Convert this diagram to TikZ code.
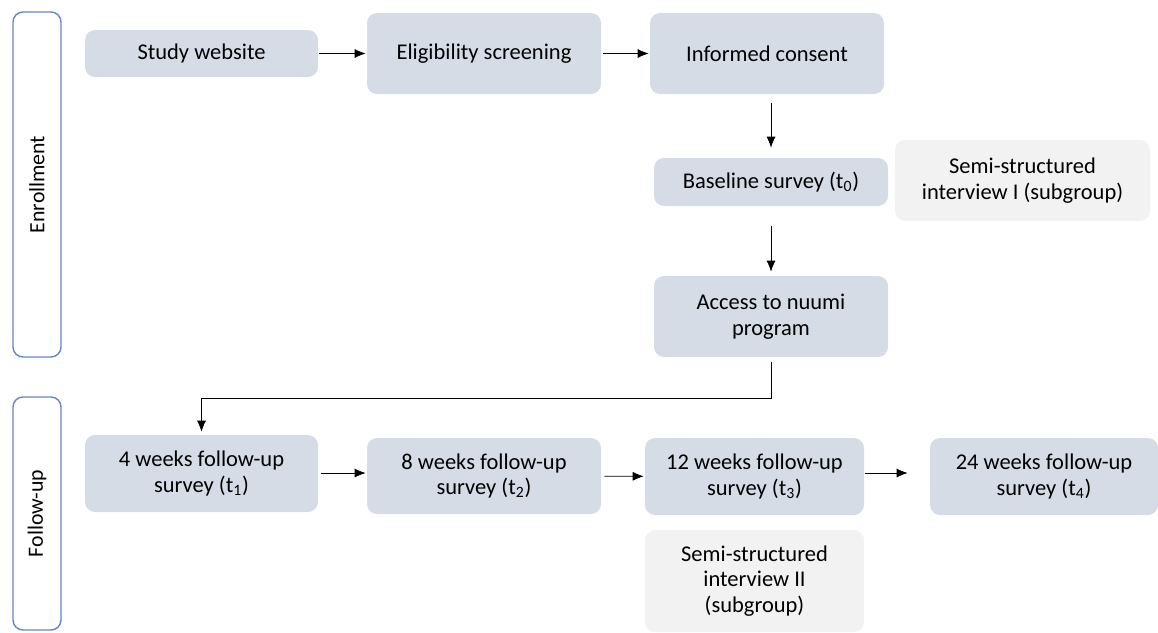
\documentclass[tikz,border=0pt]{standalone}
\usepackage{fontspec}
\setmainfont{Carlito}
\usetikzlibrary{arrows.meta, positioning}
\definecolor{boxblue}{RGB}{214,220,229}
\definecolor{boxgray}{RGB}{242,242,242}
\definecolor{sideblue}{RGB}{96,135,200}
\tikzset{
    -{Latex[length=0.22cm,width=0.18cm]}, line width=0.6pt, % arrows between the boxes
    step box/.style = {rectangle, rounded corners=0.2cm, fill=boxblue, align=center,
                       inner sep=0pt, font=\fontsize{12.8}{14.6}\selectfont},
    interview/.style = {step box, fill=boxgray},
    phase/.style = {rectangle, rounded corners=0.2cm, draw=sideblue, line width=0.8pt,
                    minimum width=0.96cm, inner sep=0pt},
    phaselabel/.style = {rotate=90, font=\fontsize{12.4}{14}\selectfont}
}
\begin{document}
\begin{tikzpicture}
  \useasboundingbox (0,0) rectangle (23.16,-12.64);
  % phases on the left
  \node [phase, minimum height=6.9cm] (enrol) at (0.74,-3.69) {};
  \node [phaselabel] at (enrol) {Enrollment};
  \node [phase, minimum height=4.66cm] (follow) at (0.74,-10.27) {};
  \node [phaselabel] at (follow) {Follow-up};
  % enrollment
  \node [step box, minimum width=4.66cm, minimum height=0.94cm] (web) at (4.03,-1.07) {Study website};
  \node [step box, minimum width=4.68cm, minimum height=1.62cm] (elig) at (9.68,-1.07) {Eligibility screening};
  \node [step box, minimum width=4.68cm, minimum height=1.62cm] (consent) at (15.34,-1.07) {Informed consent};
  \node [step box, minimum width=4.68cm, minimum height=0.96cm] (base) at (15.42,-3.64) {Baseline survey (t\textsubscript{0})};
  \node [interview, minimum width=5.1cm, minimum height=1.62cm] (int1) at (20.45,-3.61) {Semi-structured\\interview I (subgroup)};
  \node [step box, minimum width=4.68cm, minimum height=1.62cm] (access) at (15.42,-6.33) {Access to nuumi\\program};
  % follow-up
  \node [step box, minimum width=4.66cm, minimum height=1.54cm] (w4) at (4.03,-9.47) {4 weeks follow-up\\survey (t\textsubscript{1})};
  \node [step box, minimum width=4.68cm, minimum height=1.52cm] (w8) at (9.68,-9.52) {8 weeks follow-up\\survey (t\textsubscript{2})};
  \node [step box, minimum width=4.38cm, minimum height=1.54cm] (w12) at (15.09,-9.53) {12 weeks follow-up\\survey (t\textsubscript{3})};
  \node [step box, minimum width=4.56cm, minimum height=1.54cm] (w24) at (20.88,-9.53) {24 weeks follow-up\\survey (t\textsubscript{4})};
  \node [interview, minimum width=4.38cm, minimum height=2.04cm] (int2) at (15.09,-11.62) {Semi-structured\\interview II\\(subgroup)};
  % connectors
  \draw [shorten <=0.02cm, shorten >=0.02cm] (web) -- (elig);
  \draw [shorten <=0.04cm, shorten >=0.02cm] (elig) -- (consent);
  \draw [shorten <=0.18cm, shorten >=0.2cm] (consent.south -| base) -- (base);
  \draw [shorten <=0.4cm, shorten >=0.08cm] (base) -- (access);
  \draw [shorten <=0.1cm, shorten >=0.06cm] (access.south) -- ++(0,-0.82) -| (w4.north);
  \draw [shorten <=0.06cm, shorten >=0.02cm] (w4.east |- 0,-9.46) -- (w8.west |- 0,-9.46);
  \draw [shorten <=0.06cm, shorten >=0.02cm] (w8) -- (w12);
  \draw [shorten <=0.02cm, shorten >=0.44cm] (w12.east |- 0,-9.46) -- (w24.west |- 0,-9.46);
\end{tikzpicture}
\end{document}
